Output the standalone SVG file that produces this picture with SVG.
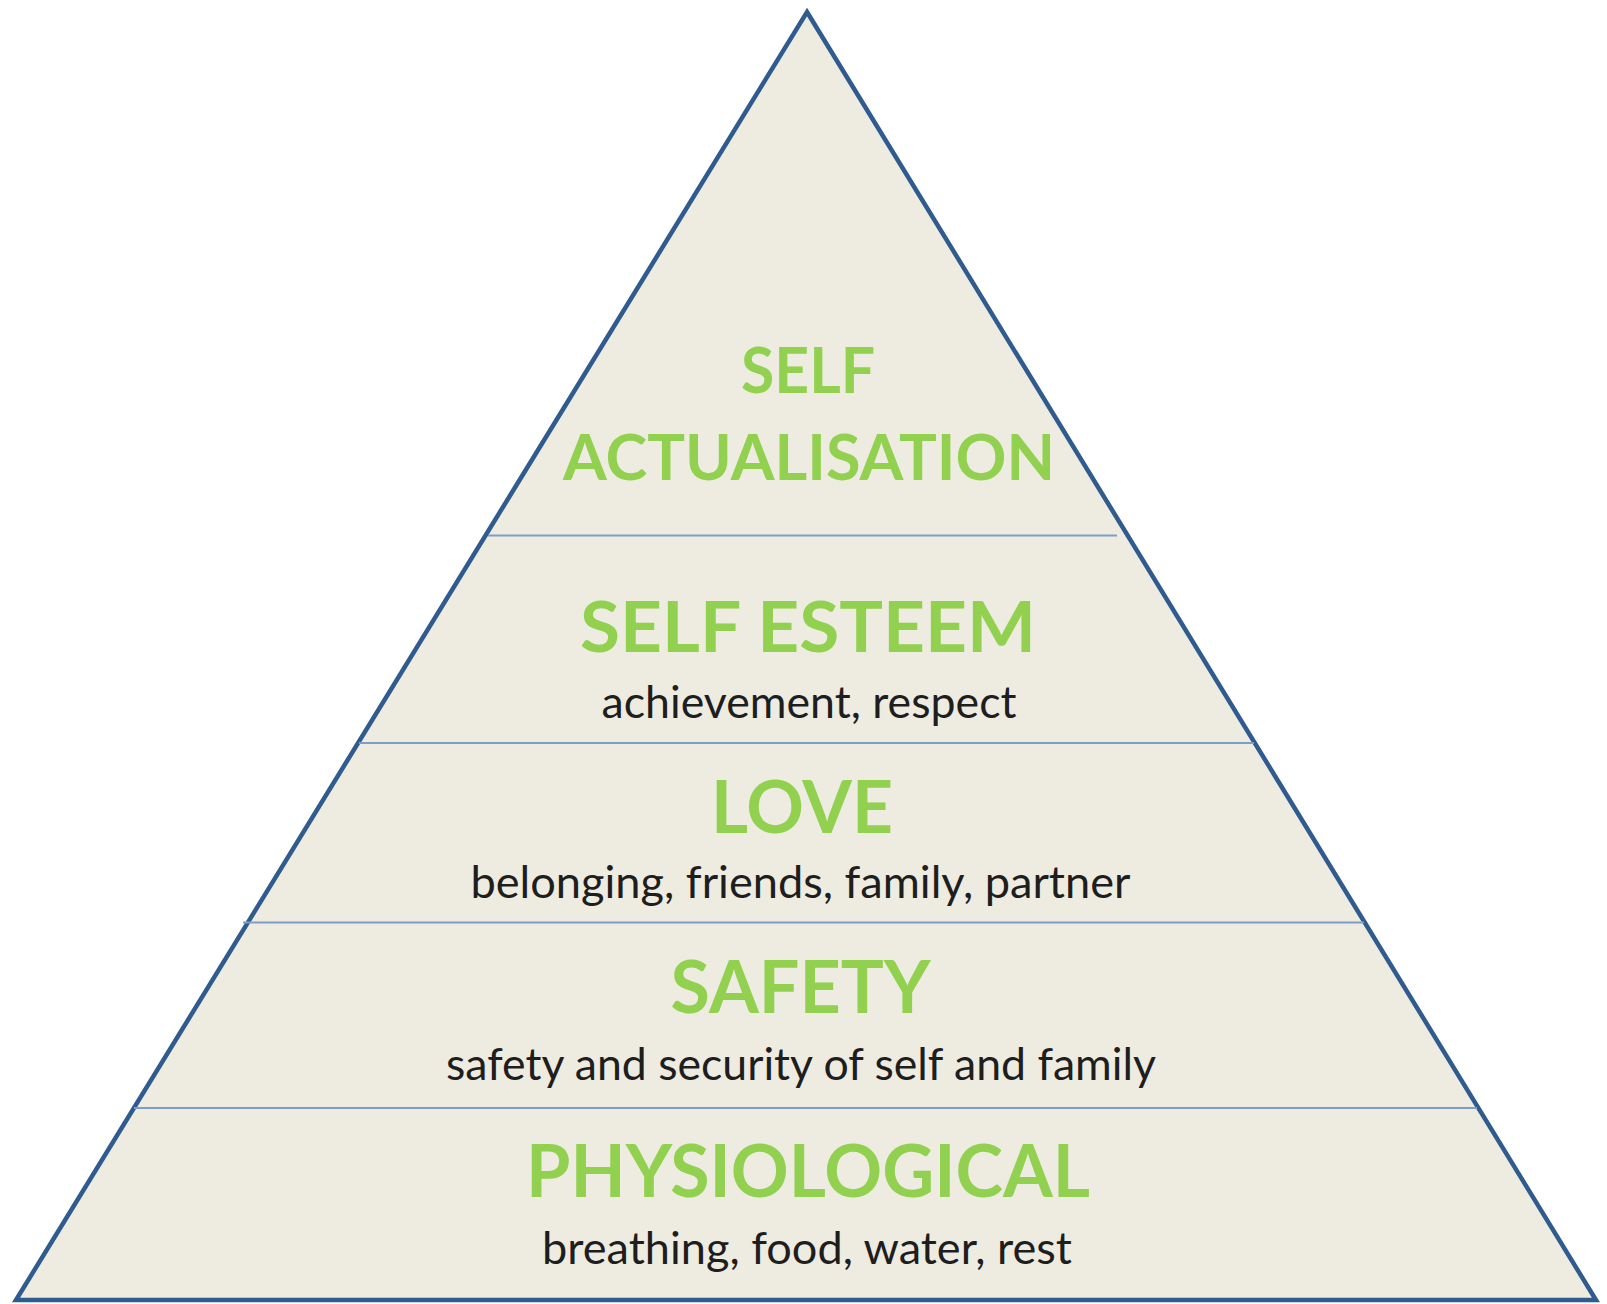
<svg xmlns="http://www.w3.org/2000/svg" width="1607" height="1304" viewBox="0 0 1607 1304">
<style>
.pyr{fill:#eeece1;stroke:#2f5b8e;stroke-width:4.5;stroke-linejoin:miter}
.div{stroke:#7f9dcb;stroke-width:2.2;fill:none}
.h{font-family:Lato,"Open Sans","Liberation Sans",sans-serif;font-weight:700;fill:#92d050;text-anchor:middle}
.s{font-family:Lato,"Open Sans","Liberation Sans",sans-serif;font-weight:400;fill:#1e1e1e;text-anchor:middle;font-size:44px}
</style>
<rect width="1607" height="1304" fill="#ffffff"/>
<g id="pyramid">
<polygon class="pyr" points="807,12 1596,1300 16,1300"/>
</g>
<g id="connectors">
<line class="div" x1="488" y1="535.5" x2="1117" y2="535.5"/>
<line class="div" x1="359" y1="743" x2="1254" y2="743"/>
<line class="div" x1="243" y1="922.5" x2="1364" y2="922.5"/>
<line class="div" x1="134" y1="1108" x2="1477" y2="1108"/>
</g>
<g id="self-actualisation">
<text class="h" x="808" y="392.5" font-size="63" textLength="134" lengthAdjust="spacingAndGlyphs">SELF</text>
<text class="h" x="809" y="480" font-size="63" textLength="492" lengthAdjust="spacingAndGlyphs">ACTUALISATION</text>
</g>
<g id="self-esteem">
<text class="h" x="808" y="652" font-size="71" textLength="456" lengthAdjust="spacingAndGlyphs">SELF ESTEEM</text>
<text class="s" x="809" y="718" textLength="415" lengthAdjust="spacingAndGlyphs">achievement, respect</text>
</g>
<g id="love">
<text class="h" x="802" y="832.5" font-size="73" textLength="182" lengthAdjust="spacingAndGlyphs">LOVE</text>
<text class="s" x="800.5" y="898" textLength="660" lengthAdjust="spacingAndGlyphs">belonging, friends, family, partner</text>
</g>
<g id="safety">
<text class="h" x="800.5" y="1012.5" font-size="73" textLength="260" lengthAdjust="spacingAndGlyphs">SAFETY</text>
<text class="s" x="801" y="1080" textLength="710" lengthAdjust="spacingAndGlyphs">safety and security of self and family</text>
</g>
<g id="physiological">
<text class="h" x="808" y="1197" font-size="73" textLength="564" lengthAdjust="spacingAndGlyphs">PHYSIOLOGICAL</text>
<text class="s" x="807" y="1263.5" textLength="530" lengthAdjust="spacingAndGlyphs">breathing, food, water, rest</text>
</g>
</svg>
